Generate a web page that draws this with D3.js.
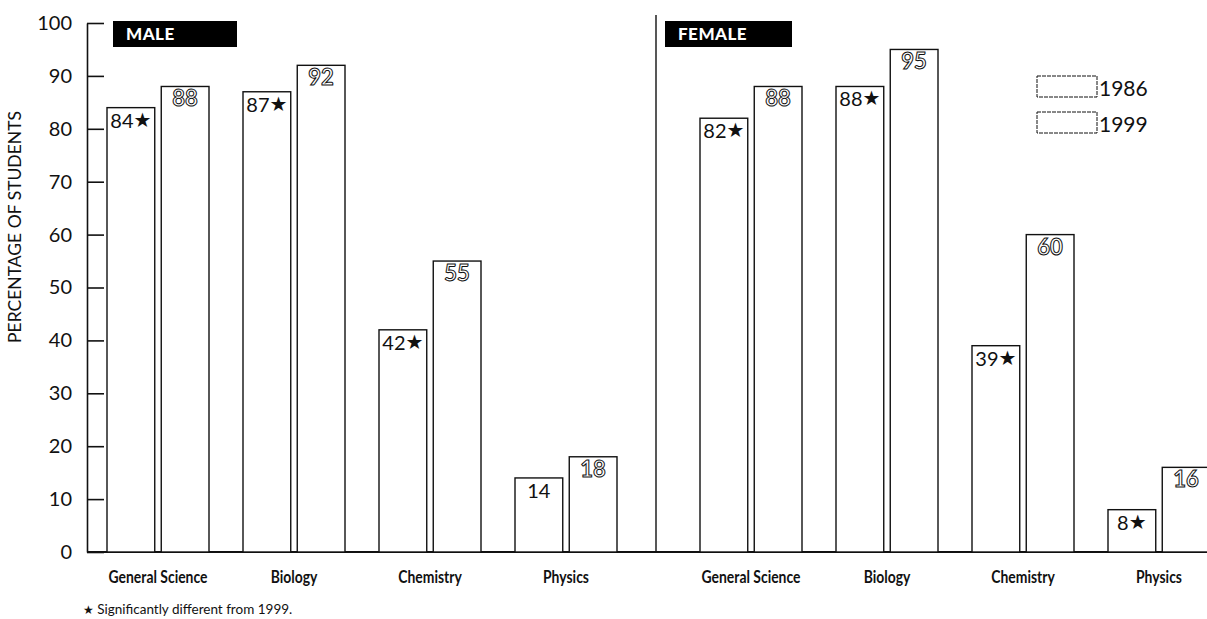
<!DOCTYPE html>
<html><head><meta charset="utf-8">
<script src="https://cdn.jsdelivr.net/npm/d3@7"></script>
<style>
html,body{margin:0;padding:0;background:#fff;}
svg{display:block;}
text{font-family:"Lato","Noto Sans",sans-serif;fill:#111;}
</style></head>
<body>
<svg id="chart" width="1207" height="619"></svg>
<script>
const subjects = ["General Science","Biology","Chemistry","Physics"];
const years = ["1986","1999"];
const male1986 = [84,87,42,14];
const male1999 = [88,92,55,18];
const female1986 = [82,88,39,8];
const female1999 = [88,95,60,16];
const maleSig1986 = [true,true,true,false];
const femaleSig1986 = [true,true,true,true];
const yTicks = [0,10,20,30,40,50,60,70,80,90,100];
const panelNames = ["MALE","FEMALE"];

const svg = d3.select("#chart");
const y = d3.scaleLinear().domain([0,100]).range([552,23]);

// y axis
const yAxis = d3.axisLeft(y).tickValues(yTicks).tickSizeInner(-17).tickSizeOuter(0).tickPadding(15);
const ga = svg.append("g").attr("transform","translate(87,0)").call(yAxis);
ga.select(".domain").attr("stroke","#111").attr("stroke-width",1.6);
ga.selectAll(".tick line").attr("stroke","#111").attr("stroke-width",1.6);
ga.selectAll(".tick text").attr("font-size",20).attr("font-family","Lato, sans-serif").attr("fill","#111");

svg.append("text").attr("transform","translate(21,227) rotate(-90)")
  .attr("text-anchor","middle").attr("font-size",17.5).text("PERCENTAGE OF STUDENTS");

// baseline
svg.append("line").attr("x1",87).attr("x2",1207).attr("y1",y(0)).attr("y2",y(0))
  .attr("stroke","#111").attr("stroke-width",1.8);

// divider
svg.append("line").attr("x1",656).attr("x2",656).attr("y1",15).attr("y2",y(0))
  .attr("stroke","#111").attr("stroke-width",1.4);

const yearX = d3.scaleBand().domain(years).range([-51,51]).paddingInner(0.12);

const panels = [
  {name:panelNames[0], range:[90,634], v86:male1986, v99:male1999, sig:maleSig1986, box:[113,124]},
  {name:panelNames[1], range:[683,1227], v86:female1986, v99:female1999, sig:femaleSig1986, box:[665,127]}
];

panels.forEach(p=>{
  const x = d3.scaleBand().domain(subjects).range(p.range);
  const g = svg.append("g");
  // panel label
  g.append("rect").attr("x",p.box[0]).attr("y",21).attr("width",p.box[1]).attr("height",26).attr("fill","#000");
  g.append("text").attr("x",p.box[0]+13).attr("y",40).attr("font-size",17).attr("font-weight",900)
    .attr("fill","#fff").style("fill","#fff").attr("letter-spacing",0.5).text(p.name);

  subjects.forEach((s,i)=>{
    const cx = x(s) + x.bandwidth()/2;
    const vals = [p.v86[i], p.v99[i]];
    years.forEach((yr,j)=>{
      const bx = cx + yearX(yr);
      const v = vals[j];
      g.append("rect").attr("x",bx).attr("y",y(v)).attr("width",yearX.bandwidth())
        .attr("height",y(0)-y(v)).attr("fill","#fff").attr("stroke","#111").attr("stroke-width",1.4);
      const tx = bx + yearX.bandwidth()/2;
      if(j===0){
        const t = g.append("text").attr("x",tx).attr("y",y(v)+20).attr("text-anchor","middle")
          .attr("font-size",20);
        t.append("tspan").text(v);
        if(p.sig[i]) t.append("tspan").attr("font-family","DejaVu Sans").attr("font-size",20).attr("dy",-1).text("★");
      } else {
        g.append("text").attr("x",tx).attr("y",y(v)+20).attr("text-anchor","middle")
          .attr("font-size",22).attr("font-weight",700)
          .style("fill","#fff").attr("stroke","#111").attr("stroke-width",1).text(v);
      }
    });
    g.append("text").attr("transform",`translate(${cx},583) scale(0.82,1)`)
      .attr("text-anchor","middle").attr("font-size",17).attr("font-weight",700).text(s);
  });
});

// legend
years.forEach((yr,i)=>{
  const ly = 76 + i*36;
  svg.append("rect").attr("x",1037).attr("y",ly).attr("width",60).attr("height",21)
    .attr("fill","#fff").attr("stroke","#111").attr("stroke-width",1).attr("stroke-dasharray","4,1");
  svg.append("text").attr("x",1099).attr("y",ly+20).attr("font-size",21).text(yr);
});

// footnote
const fn = svg.append("text").attr("x",83).attr("y",614).attr("font-size",13.5);
fn.append("tspan").attr("font-family","DejaVu Sans").attr("font-size",12).text("★");
fn.append("tspan").text(" Significantly different from 1999.");
</script>
</body></html>
